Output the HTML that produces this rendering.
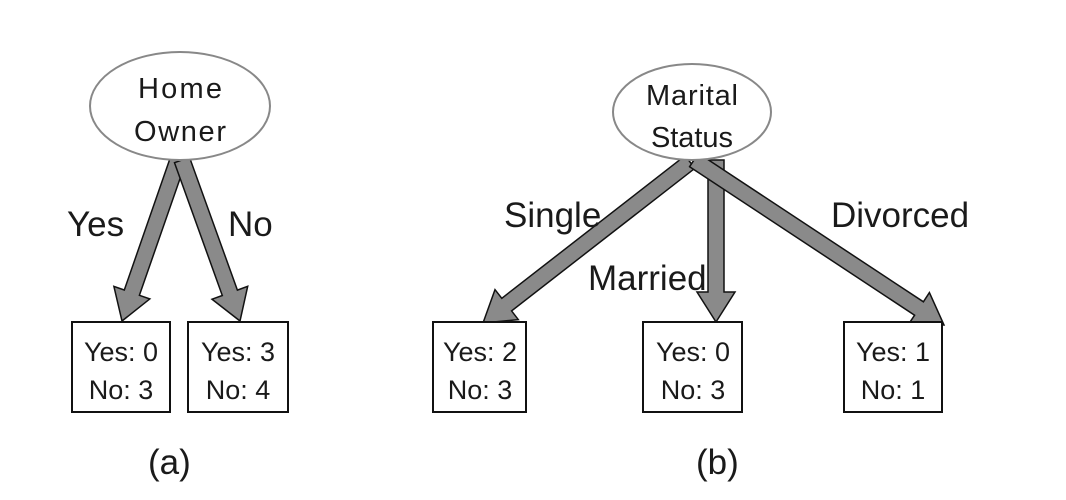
<!DOCTYPE html>
<html><head><meta charset="utf-8"><style>
html,body{margin:0;padding:0;background:#fff;}
svg{display:block;}
text{font-family:"Liberation Sans",sans-serif;fill:#1a1a1a;}
</style></head><body>
<svg id="s" width="1066" height="500" viewBox="0 0 1066 500" xmlns="http://www.w3.org/2000/svg">
<g id="arrows"></g>
<ellipse cx="180" cy="106" rx="90" ry="54" fill="#fff" stroke="#888" stroke-width="2"/>
<text x="180" y="98" font-size="29" text-anchor="middle" textLength="84">Home</text>
<text x="180" y="141" font-size="29" text-anchor="middle" textLength="92">Owner</text>
<ellipse cx="692" cy="112" rx="79" ry="48" fill="#fff" stroke="#888" stroke-width="2"/>
<text x="692" y="105" font-size="29" text-anchor="middle" textLength="92">Marital</text>
<text x="692" y="147" font-size="29" text-anchor="middle" textLength="82">Status</text>
<g fill="#fff" stroke="#111" stroke-width="2">
<rect x="72" y="322" width="98" height="90"/>
<rect x="188" y="322" width="100" height="90"/>
<rect x="433" y="322" width="93" height="90"/>
<rect x="643" y="322" width="99" height="90"/>
<rect x="844" y="322" width="98" height="90"/>
</g>
<g font-size="27" text-anchor="middle">
<text x="121" y="361">Yes: 0</text><text x="121" y="399">No: 3</text>
<text x="238" y="361">Yes: 3</text><text x="238" y="399">No: 4</text>
<text x="480" y="361">Yes: 2</text><text x="480" y="399">No: 3</text>
<text x="693" y="361">Yes: 0</text><text x="693" y="399">No: 3</text>
<text x="893" y="361">Yes: 1</text><text x="893" y="399">No: 1</text>
</g>
<g font-size="35">
<text x="67" y="236">Yes</text>
<text x="228" y="236">No</text>
<text x="504" y="227">Single</text>
<text x="588" y="290">Married</text>
<text x="831" y="227">Divorced</text>
<text x="148" y="474">(a)</text>
<text x="696" y="474">(b)</text>
</g>
</svg>
<script>
function arrow(x1,y1,x2,y2){
 var dx=x2-x1,dy=y2-y1,L=Math.hypot(dx,dy),ux=dx/L,uy=dy/L,nx=-uy,ny=ux;
 var w=8,hw=19,hl=30;
 var bx=x2-ux*hl,by=y2-uy*hl;
 var p=[[x1+nx*w,y1+ny*w],[bx+nx*w,by+ny*w],[bx+nx*hw,by+ny*hw],[x2,y2],[bx-nx*hw,by-ny*hw],[bx-nx*w,by-ny*w],[x1-nx*w,y1-ny*w]];
 var e=document.createElementNS("http://www.w3.org/2000/svg","polygon");
 e.setAttribute("points",p.map(function(q){return q[0].toFixed(1)+","+q[1].toFixed(1)}).join(" "));
 e.setAttribute("fill","#8a8a8a");e.setAttribute("stroke","#111");e.setAttribute("stroke-width","1.5");
 document.getElementById("arrows").appendChild(e);
}
arrow(178,160,122,321);
arrow(182,160,240,321);
arrow(690,162,483,323);
arrow(716,160,716,322);
arrow(694,160,944,325);
</script>
</body></html>
